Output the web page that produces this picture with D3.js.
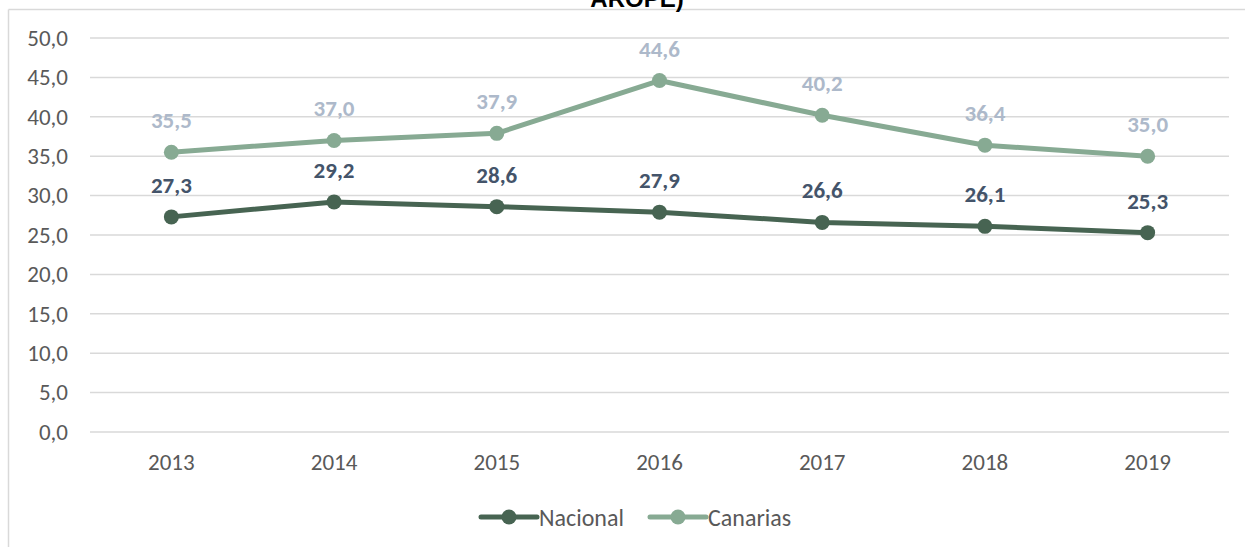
<!DOCTYPE html>
<html>
<head>
<meta charset="utf-8">
<script src="https://cdn.jsdelivr.net/npm/d3@7"></script>
<style>
  html, body { margin: 0; padding: 0; background: #fff; }
  svg { display: block; }
  text { font-family: Carlito, Calibri, Lato, sans-serif; }
</style>
</head>
<body>
<div id="chart"></div>
<script>
// chart data
const years = ['2013', '2014', '2015', '2016', '2017', '2018', '2019'];
const nacional = [27.3, 29.2, 28.6, 27.9, 26.6, 26.1, 25.3];
const canarias = [35.5, 37.0, 37.9, 44.6, 40.2, 36.4, 35.0];
const yTicks = [0, 5, 10, 15, 20, 25, 30, 35, 40, 45, 50];
const seriesNames = ['Nacional', 'Canarias'];

const width = 1245;
const height = 547;
const margin = { top: 38, right: 16, bottom: 115, left: 90 };

const svg = d3.select('#chart')
    .append('svg')
    .attr('width', width)
    .attr('height', height);

// chart frame (only top and left edges are in view)
svg.append('line')
    .attr('x1', 8.5).attr('y1', 9.5)
    .attr('x2', width).attr('y2', 9.5)
    .attr('stroke', '#d9d9d9').attr('stroke-width', 1.5);
svg.append('line')
    .attr('x1', 8.5).attr('y1', 9.5)
    .attr('x2', 8.5).attr('y2', height)
    .attr('stroke', '#d9d9d9').attr('stroke-width', 1.5);

// title, cut off at the top like in the source
svg.append('text')
    .attr('x', 637)
    .attr('y', 7)
    .attr('text-anchor', 'middle')
    .style('font-family', 'Liberation Sans, Arial, sans-serif')
    .style('font-weight', 'bold')
    .style('font-size', '24px')
    .attr('fill', '#000')
    .text('AROPE)');

const x = d3.scaleBand()
    .domain(years)
    .range([margin.left, width - margin.right]);

const y = d3.scaleLinear()
    .domain([0, 50])
    .range([height - margin.bottom, margin.top]);

// gridlines
svg.append('g')
    .selectAll('line')
    .data(yTicks)
    .join('line')
    .attr('x1', margin.left)
    .attr('x2', width - margin.right)
    .attr('y1', d => y(d))
    .attr('y2', d => y(d))
    .attr('stroke', '#d9d9d9')
    .attr('stroke-width', 1.5);

// y axis labels
const yAxis = svg.append('g')
    .attr('transform', `translate(${margin.left}, 0)`)
    .call(d3.axisLeft(y).tickValues(yTicks).tickSize(0).tickPadding(22)
        .tickFormat(d => d3.format('.1f')(d).replace('.', ',')));
yAxis.select('.domain').remove();
yAxis.selectAll('text')
    .style('font-size', '23px')
    .attr('fill', '#595959');

// x axis labels
const xAxis = svg.append('g')
    .attr('transform', `translate(0, ${y(0)})`)
    .call(d3.axisBottom(x).tickSize(0).tickPadding(22));
xAxis.select('.domain').remove();
xAxis.selectAll('text')
    .style('font-size', '23px')
    .attr('fill', '#595959');

const series = [
    { name: seriesNames[0], values: nacional, color: '#476452', labelColor: '#44546a' },
    { name: seriesNames[1], values: canarias, color: '#87aa93', labelColor: '#adb9ca' }
];

const line = d3.line()
    .x((d, i) => x(years[i]) + x.bandwidth() / 2)
    .y(d => y(d));

series.forEach(s => {
    const g = svg.append('g');

    g.append('path')
        .datum(s.values)
        .attr('d', line)
        .attr('fill', 'none')
        .attr('stroke', s.color)
        .attr('stroke-width', 5)
        .attr('stroke-linejoin', 'round');

    g.selectAll('circle')
        .data(s.values)
        .join('circle')
        .attr('cx', (d, i) => x(years[i]) + x.bandwidth() / 2)
        .attr('cy', d => y(d))
        .attr('r', 7.5)
        .attr('fill', s.color);

    g.selectAll('text')
        .data(s.values)
        .join('text')
        .attr('x', (d, i) => x(years[i]) + x.bandwidth() / 2)
        .attr('y', d => y(d) - 32)
        .attr('dominant-baseline', 'central')
        .attr('text-anchor', 'middle')
        .style('font-size', '23px')
        .style('font-weight', 'bold')
        .attr('fill', s.labelColor)
        .text(d => d3.format('.1f')(d).replace('.', ','));
});

// legend
const legend = svg.append('g')
    .attr('transform', 'translate(481, 517)');

const legendItems = legend.selectAll('g')
    .data(series)
    .join('g')
    .attr('transform', (d, i) => `translate(${i * 169}, 0)`);

legendItems.append('line')
    .attr('x1', 0).attr('x2', 56)
    .attr('y1', 0).attr('y2', 0)
    .attr('stroke', d => d.color)
    .attr('stroke-width', 5)
    .attr('stroke-linecap', 'round');

legendItems.append('circle')
    .attr('cx', 28).attr('cy', 0)
    .attr('r', 7.5)
    .attr('fill', d => d.color);

legendItems.append('text')
    .attr('x', 58)
    .attr('y', 0)
    .attr('dominant-baseline', 'central')
    .style('font-size', '24px')
    .attr('fill', '#595959')
    .text(d => d.name);
</script>
</body>
</html>
